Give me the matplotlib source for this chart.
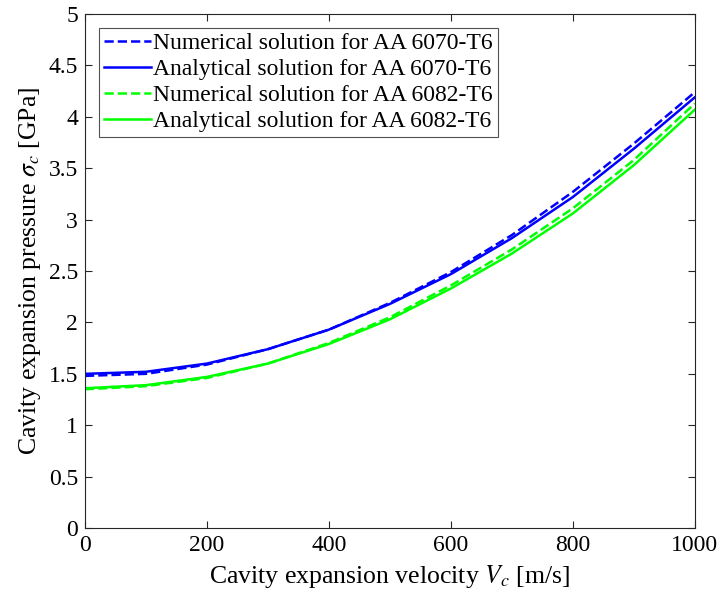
import matplotlib
matplotlib.use("Agg")
import matplotlib.pyplot as plt

velocity = [0, 100, 200, 300, 400, 500, 600, 700, 800, 900, 1000]
num_6070 = [1.48, 1.50, 1.59, 1.74, 1.93, 2.19, 2.49, 2.85, 3.27, 3.74, 4.24]
ana_6070 = [1.50, 1.52, 1.60, 1.74, 1.93, 2.18, 2.47, 2.82, 3.22, 3.69, 4.19]
num_6082 = [1.35, 1.38, 1.46, 1.60, 1.80, 2.05, 2.36, 2.71, 3.11, 3.58, 4.13]
ana_6082 = [1.36, 1.39, 1.47, 1.60, 1.79, 2.03, 2.33, 2.67, 3.06, 3.53, 4.07]
labels = ["Numerical solution for AA 6070-T6", "Analytical solution for AA 6070-T6",
          "Numerical solution for AA 6082-T6", "Analytical solution for AA 6082-T6"]

plt.rcParams['font.family'] = ['Liberation Serif', 'DejaVu Serif']
plt.rcParams['mathtext.fontset'] = 'stix'

fig = plt.figure(figsize=(7.2, 5.99), dpi=100)
ax = fig.add_axes([0.118, 0.1185, 0.847, 0.858])
ax.plot(velocity, num_6070, '--', color='#0000ff', lw=1.8, label=labels[0])
ax.plot(velocity, ana_6070, '-', color='#0000ff', lw=1.8, label=labels[1])
ax.plot(velocity, num_6082, '--', color='#00ff00', lw=1.8, label=labels[2])
ax.plot(velocity, ana_6082, '-', color='#00ff00', lw=1.8, label=labels[3])

ax.set_xlim(0, 1000)
ax.set_ylim(0, 5)
ax.set_xticks(range(0, 1001, 200))
ax.set_yticks([0, 0.5, 1, 1.5, 2, 2.5, 3, 3.5, 4, 4.5, 5])
ax.set_yticklabels(['0', '0.5', '1', '1.5', '2', '2.5', '3', '3.5', '4', '4.5', '5'])
ax.tick_params(direction='in', labelsize=17, length=5, top=True, right=True,
               color='#262626', pad=5)
for s in ax.spines.values():
    s.set_color('#262626')
    s.set_linewidth(0.8)
ax.set_xlabel(r'Cavity expansion velocity $V_c$ [m/s]', fontsize=18.5, labelpad=5)
ax.set_ylabel(r'Cavity expansion pressure $\sigma_c$ [GPa]', fontsize=18.5, labelpad=4)
leg = ax.legend(loc='upper left', fontsize=17, frameon=True, fancybox=False,
                edgecolor='#262626', handlelength=2.0, handletextpad=0.1,
                borderpad=0.2, labelspacing=0.18, borderaxespad=0.6)
leg.get_frame().set_linewidth(0.8)
fig.savefig('out.png', dpi=100)
